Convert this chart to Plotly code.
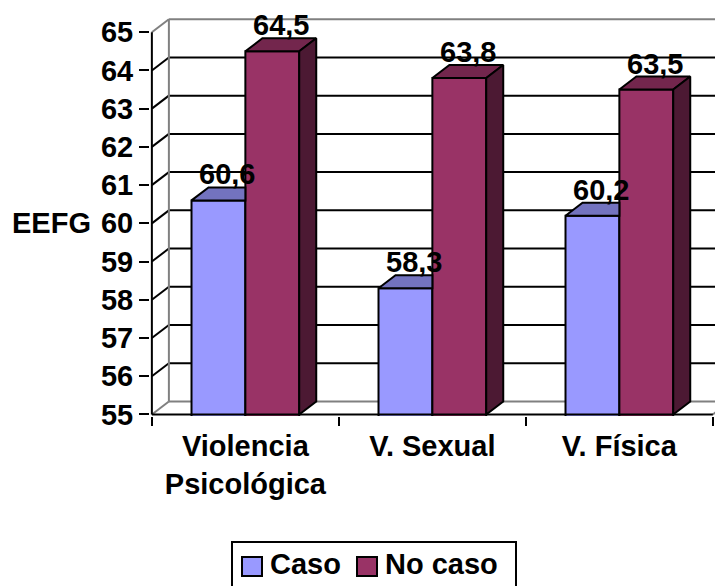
import plotly.graph_objects as go

# ---- data ----
categories = ["Violencia<br>Psicológica", "V. Sexual", "V. Física"]
caso = [60.6, 58.3, 60.2]
no_caso = [64.5, 63.8, 63.5]
series_names = ["Caso", "No caso"]
y_ticks = list(range(55, 66))
y_title = "EEFG"

# ---- style / geometry ----
FONT = "Liberation Sans, Arial, sans-serif"
FS = 29
OFF = 8                       # page body margin
W, H = 723 - OFF, 586 - OFF
ML, MR, MT, MB = 150 - OFF, 0, 15 - OFF, 170
XR = [-0.51, -0.51 + (W - ML - MR) / 187.0]
YR = [54.96, 65.45]
DX = 0.091   # depth offset (x data units)
DY = 0.34    # depth offset (y data units)
BW = 0.288   # bar width
YMIN, YMAX = y_ticks[0], y_ticks[-1]
X0, X1 = -0.5, len(categories) - 0.5

c_caso = "#9999FF"; c_caso_top = "#7373BF"
c_no = "#993366"; c_no_top = "#73264D"; c_no_side = "#4C1933"
GRAY = "#808080"

xs = list(range(len(categories)))
fig = go.Figure()

fig.add_trace(go.Bar(x=xs, y=caso, width=BW, offset=-BW, name=series_names[0],
                     marker=dict(color=c_caso, line=dict(color="black", width=2)),
                     showlegend=False))
fig.add_trace(go.Bar(x=xs, y=no_caso, width=BW, offset=0, name=series_names[1],
                     marker=dict(color=c_no, line=dict(color="black", width=2)),
                     showlegend=False))

# 3D faces
for i, (a, b) in enumerate(zip(caso, no_caso)):
    x0, x1 = i - BW, i
    fig.add_trace(go.Scatter(x=[x0, x1, x1, x0 + DX, x0], y=[a, a, a + DY, a + DY, a],
                             mode="lines", fill="toself", fillcolor=c_caso_top,
                             line=dict(color="black", width=2), hoverinfo="skip", showlegend=False))
    x0, x1 = i, i + BW
    fig.add_trace(go.Scatter(x=[x0, x1, x1 + DX, x0 + DX, x0], y=[b, b, b + DY, b + DY, b],
                             mode="lines", fill="toself", fillcolor=c_no_top,
                             line=dict(color="black", width=2), hoverinfo="skip", showlegend=False))
    fig.add_trace(go.Scatter(x=[x1, x1 + DX, x1 + DX, x1, x1], y=[b, b + DY, YMIN + DY, YMIN, b],
                             mode="lines", fill="toself", fillcolor=c_no_side,
                             line=dict(color="black", width=2), hoverinfo="skip", showlegend=False))

shapes = []
# back wall grid lines & left wall lines
for v in y_ticks:
    col = GRAY if v in (YMIN, YMAX) else "black"
    shapes.append(dict(type="line", xref="x", yref="y", x0=X0 + DX, x1=X1 + DX, y0=v + DY, y1=v + DY,
                       line=dict(color=col, width=2), layer="below"))
    shapes.append(dict(type="line", xref="x", yref="y", x0=X0, x1=X0 + DX, y0=v, y1=v + DY,
                       line=dict(color=col, width=2), layer="below"))
shapes.append(dict(type="line", xref="x", yref="y", x0=X0 + DX, x1=X0 + DX, y0=YMIN + DY, y1=YMAX + DY,
                   line=dict(color=GRAY, width=2), layer="below"))
shapes.append(dict(type="line", xref="x", yref="y", x0=X1, x1=X1 + DX, y0=YMIN, y1=YMIN + DY,
                   line=dict(color=GRAY, width=2), layer="below"))
# front axes
shapes.append(dict(type="line", xref="x", yref="y", x0=X0, x1=X0, y0=YMIN, y1=YMAX,
                   line=dict(color="black", width=2), layer="above"))
shapes.append(dict(type="line", xref="x", yref="y", x0=X0, x1=X1, y0=YMIN, y1=YMIN,
                   line=dict(color="black", width=2), layer="above"))

# manual legend (paper coords, from window pixel positions)
pw, ph = W - ML - MR, H - MT - MB
def px(x): return (x - OFF - ML) / pw
def py(y): return (H - MB - (y - OFF)) / ph
shapes.append(dict(type="rect", xref="paper", yref="paper", x0=px(232), x1=px(516), y0=py(542), y1=py(600),
                   line=dict(color="black", width=2), fillcolor="white"))
shapes.append(dict(type="rect", xref="paper", yref="paper", x0=px(242), x1=px(262), y0=py(557), y1=py(576),
                   line=dict(color="black", width=2), fillcolor=c_caso))
shapes.append(dict(type="rect", xref="paper", yref="paper", x0=px(357), x1=px(377), y0=py(557), y1=py(576),
                   line=dict(color="black", width=2), fillcolor=c_no))

font = dict(family=FONT, size=FS, color="black", weight="bold")
annotations = []
def fmt(v): return f"{v:.1f}".replace(".", ",")
for i, (a, b) in enumerate(zip(caso, no_caso)):
    annotations.append(dict(x=i - BW / 2 + DX / 2, y=a + DY, xref="x", yref="y", text=fmt(a),
                            showarrow=False, yanchor="bottom", yshift=-5, font=font))
    annotations.append(dict(x=i + BW / 2 + DX / 2, y=b + DY, xref="x", yref="y", text=fmt(b),
                            showarrow=False, yanchor="bottom", yshift=-5, font=font))
annotations.append(dict(x=px(51), y=py(223), xref="paper", yref="paper", text=y_title,
                        showarrow=False, xanchor="center", yanchor="middle", font=font))
annotations.append(dict(x=px(268), y=py(564), xref="paper", yref="paper", text=series_names[0],
                        showarrow=False, xanchor="left", yanchor="middle", font=font))
annotations.append(dict(x=px(383), y=py(564), xref="paper", yref="paper", text=series_names[1],
                        showarrow=False, xanchor="left", yanchor="middle", font=font))

fig.update_layout(
    width=W, height=H, margin=dict(l=ML, r=MR, t=MT, b=MB),
    paper_bgcolor="white", plot_bgcolor="white",
    font=font, shapes=shapes, annotations=annotations, showlegend=False,
    xaxis=dict(range=XR, tickvals=xs, ticktext=categories, ticks="", showgrid=False,
               zeroline=False, showline=False, tickfont=font, ticklabelstandoff=10,
               minor=dict(tickvals=[X0 + k for k in range(len(categories) + 1)], ticks="outside",
                          ticklen=9, tickwidth=2, tickcolor="black", showgrid=False)),
    yaxis=dict(range=YR, tickvals=y_ticks, ticks="outside", ticklen=10, tickwidth=2,
               tickcolor="black", showgrid=False, zeroline=False, showline=False, tickfont=font),
)

fig.write_html("out.html")
